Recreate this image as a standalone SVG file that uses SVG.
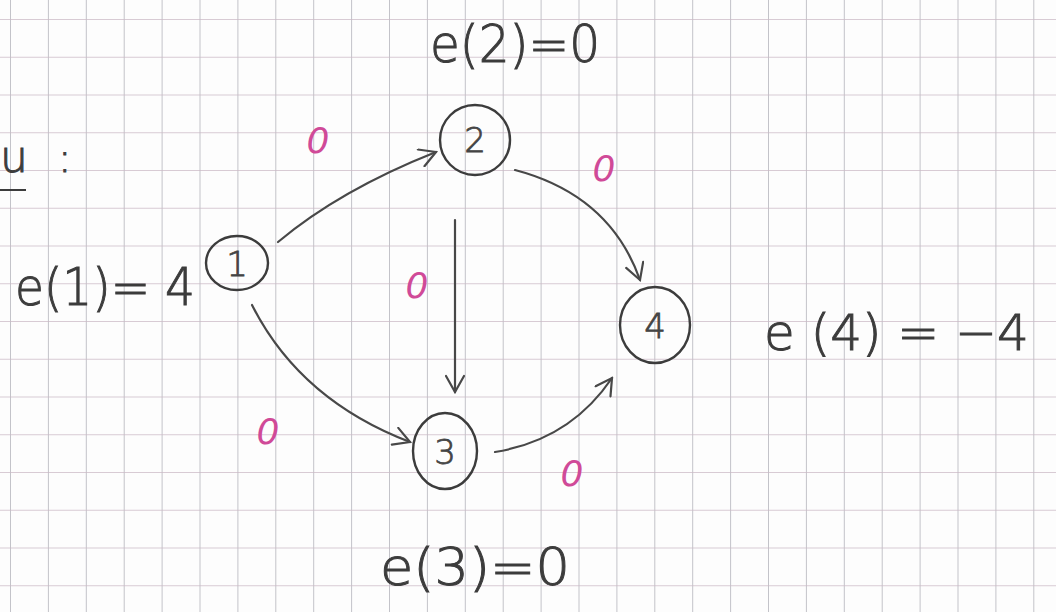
<svg xmlns="http://www.w3.org/2000/svg" width="1056" height="612" viewBox="0 0 1056 612">
<style>
.node{fill:none;stroke:#3c3c3c;stroke-width:2.4}
.num{font-family:"DejaVu Sans","Liberation Sans",sans-serif;font-size:34px;fill:#444;text-anchor:middle;font-weight:300;stroke:#444;stroke-width:0.8}
.lab{font-family:"DejaVu Sans","Liberation Sans",sans-serif;fill:#3c3c3c;font-weight:300;stroke:#3c3c3c;stroke-width:1}
.w{font-family:"DejaVu Sans","Liberation Sans",sans-serif;font-size:36px;fill:#d04a98;font-style:italic;text-anchor:middle;font-weight:300}
.edge{fill:none;stroke:#484848;stroke-width:2.2;stroke-linecap:round}
</style>
<defs>
<pattern id="grid" patternUnits="userSpaceOnUse" x="10" y="19" width="37.9" height="37.75">
<line x1="0" y1="0" x2="0" y2="37.75" stroke="#b4b4bc" stroke-width="1.6"/>
<line x1="0" y1="0" x2="37.9" y2="0" stroke="#cbbac6" stroke-width="1.6"/>
</pattern>
<marker id="arr" viewBox="0 0 20 20" refX="18" refY="10" markerWidth="20" markerHeight="20" markerUnits="userSpaceOnUse" orient="auto">
<polyline points="2,1 18,10 2,19" fill="none" stroke="#484848" stroke-width="2.2" stroke-linecap="round"/>
</marker>
</defs>
<rect width="1056" height="612" fill="#fdfdfd"/>
<rect width="1056" height="612" fill="url(#grid)"/>

<g id="header">
<text x="0" y="172" class="lab" font-size="44">u</text>
<line x1="0" y1="190" x2="26" y2="190" stroke="#3c3c3c" stroke-width="2"/>
<text x="58" y="172" class="lab" font-size="40">:</text>
</g>

<g id="connectors">
<path class="edge" d="M278,242 Q340,190 436,152" marker-end="url(#arr)"/>
<path class="edge" d="M515,170 Q610,195 640,280" marker-end="url(#arr)"/>
<path class="edge" d="M455,220 L455,392" marker-end="url(#arr)"/>
<path class="edge" d="M252,305 Q300,400 410,442" marker-end="url(#arr)"/>
<path class="edge" d="M495,452 Q570,440 612,378" marker-end="url(#arr)"/>
</g>

<g id="weights">
<text x="318" y="153" class="w">0</text>
<text x="604" y="181" class="w">0</text>
<text x="417" y="298" class="w">0</text>
<text x="268" y="444" class="w">0</text>
<text x="572" y="486" class="w">0</text>
</g>

<g id="node1">
<ellipse class="node" cx="237" cy="263" rx="31" ry="27"/>
<text x="237" y="276" class="num">1</text>
<text x="15" y="305" class="lab" font-size="52" textLength="180" lengthAdjust="spacingAndGlyphs">e(1)= 4</text>
</g>
<g id="node2">
<ellipse class="node" cx="475" cy="140" rx="35" ry="35"/>
<text x="475" y="152" class="num">2</text>
<text x="430" y="62" class="lab" font-size="52" textLength="170" lengthAdjust="spacingAndGlyphs">e(2)=0</text>
</g>
<g id="node3">
<ellipse class="node" cx="445" cy="451" rx="32" ry="38"/>
<text x="445" y="464" class="num">3</text>
<text x="380" y="585" class="lab" font-size="52" textLength="190" lengthAdjust="spacingAndGlyphs">e(3)=0</text>
</g>
<g id="node4">
<ellipse class="node" cx="655" cy="325" rx="35" ry="38"/>
<text x="655" y="338" class="num">4</text>
<text x="764" y="350" class="lab" font-size="50">e (4) = −4</text>
</g>
</svg>
